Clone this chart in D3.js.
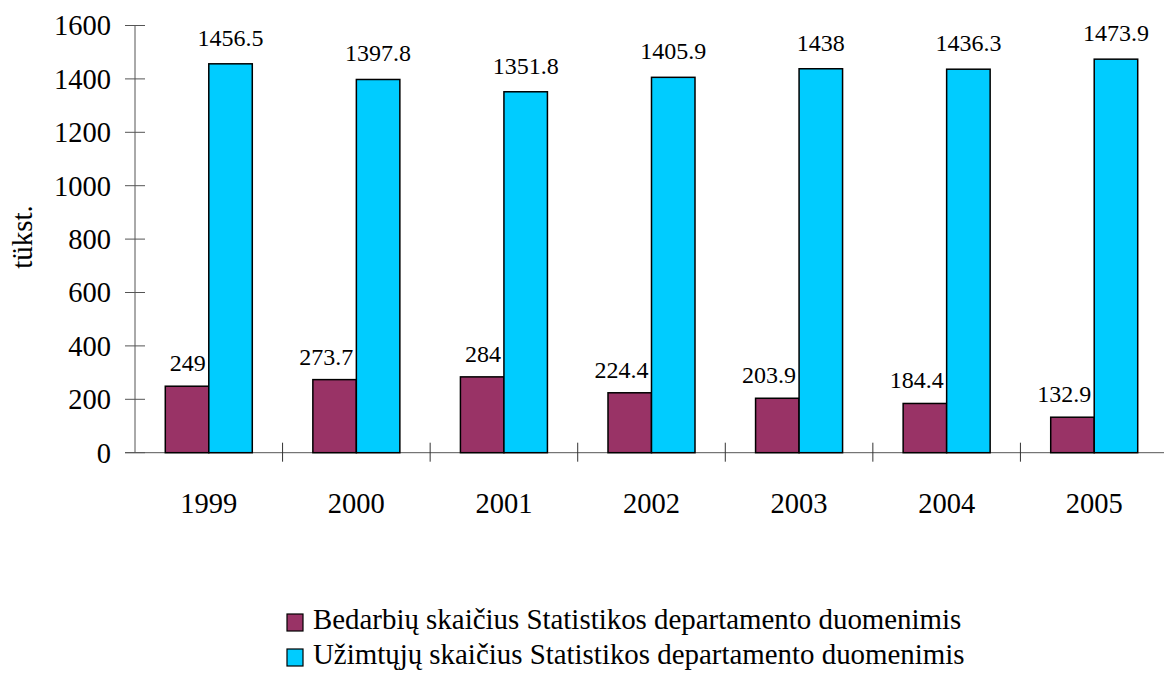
<!DOCTYPE html>
<html>
<head>
<meta charset="utf-8">
<script src="https://cdn.jsdelivr.net/npm/d3@7"></script>
<style>
  body { margin: 0; background: #fff; }
</style>
</head>
<body>
<svg id="chart" width="1164" height="690"></svg>
<script>
var years = ['1999', '2000', '2001', '2002', '2003', '2004', '2005'];
var unemployed = [249, 273.7, 284, 224.4, 203.9, 184.4, 132.9];
var employed = [1456.5, 1397.8, 1351.8, 1405.9, 1438, 1436.3, 1473.9];
var yTicks = [0, 200, 400, 600, 800, 1000, 1200, 1400, 1600];
var seriesNames = [
    'Bedarbių skaičius Statistikos departamento duomenimis',
    'Užimtųjų skaičius Statistikos departamento duomenimis'
];
var seriesColors = ['#993366', '#00ccff'];
var FONT = "'Liberation Serif'";

var svg = d3.select('#chart');

var x = d3.scaleBand().domain(years).range([135, 1168]).paddingInner(0).paddingOuter(0);
var y = d3.scaleLinear().domain([0, 1600]).range([452.7, 25.5]);
var barW = 43.5;

// y axis
svg.append('line')
    .attr('x1', 135).attr('x2', 135)
    .attr('y1', y(1600)).attr('y2', y(0))
    .attr('stroke', '#555').attr('stroke-width', 1);

yTicks.forEach(function (t) {
    svg.append('line')
        .attr('x1', 125).attr('x2', 145)
        .attr('y1', y(t)).attr('y2', y(t))
        .attr('stroke', '#555');
    svg.append('text')
        .attr('x', 111).attr('y', y(t))
        .attr('text-anchor', 'end')
        .attr('dy', '0.35em')
        .style('font-family', FONT)
        .style('font-size', '28.5px')
        .text(t);
});

// x axis
svg.append('line')
    .attr('x1', 125).attr('x2', 1168)
    .attr('y1', y(0)).attr('y2', y(0))
    .attr('stroke', '#555');

years.forEach(function (yr, i) {
    var bx = x(yr);
    if (i > 0) {
        svg.append('line')
            .attr('x1', bx).attr('x2', bx)
            .attr('y1', y(0) - 10).attr('y2', y(0) + 9)
            .attr('stroke', '#333');
    }
    svg.append('text')
        .attr('x', bx + x.bandwidth() / 2).attr('y', 513)
        .attr('text-anchor', 'middle')
        .style('font-family', FONT)
        .style('font-size', '28.5px')
        .text(yr);
});

// bars
var series = [unemployed, employed];
series.forEach(function (vals, s) {
    svg.append('g').selectAll('rect')
        .data(vals)
        .join('rect')
        .attr('x', function (d, i) { return x(years[i]) + x.bandwidth() / 2 - barW + s * barW; })
        .attr('y', function (d) { return y(d); })
        .attr('width', barW)
        .attr('height', function (d) { return y(0) - y(d); })
        .attr('fill', seriesColors[s])
        .attr('stroke', '#000')
        .attr('stroke-width', 1.5);
});

// value labels
svg.append('g').selectAll('text')
    .data(unemployed)
    .join('text')
    .attr('x', function (d, i) { return x(years[i]) + x.bandwidth() / 2 - 3; })
    .attr('y', function (d) { return y(d) - 15; })
    .attr('text-anchor', 'end')
    .style('font-family', FONT)
    .style('font-size', '24px')
    .text(function (d) { return d; });

svg.append('g').selectAll('text')
    .data(employed)
    .join('text')
    .attr('x', function (d, i) { return x(years[i]) + x.bandwidth() / 2 + barW / 2; })
    .attr('y', function (d) { return y(d) - 18; })
    .attr('text-anchor', 'middle')
    .style('font-family', FONT)
    .style('font-size', '24px')
    .text(function (d) { return d; });

// y axis title
svg.append('text')
    .attr('transform', 'translate(32,237) rotate(-90)')
    .attr('text-anchor', 'middle')
    .style('font-family', FONT)
    .style('font-size', '29px')
    .text('tükst.');

// legend
var legendBase = [629, 664];
seriesNames.forEach(function (name, i) {
    svg.append('rect')
        .attr('x', 287).attr('y', legendBase[i] - 15)
        .attr('width', 16).attr('height', 17)
        .attr('fill', seriesColors[i])
        .attr('stroke', '#000').attr('stroke-width', 1.2);
    svg.append('text')
        .attr('x', 313).attr('y', legendBase[i])
        .style('font-family', FONT)
        .style('font-size', '28.9px')
        .text(name);
});
</script>
</body>
</html>
